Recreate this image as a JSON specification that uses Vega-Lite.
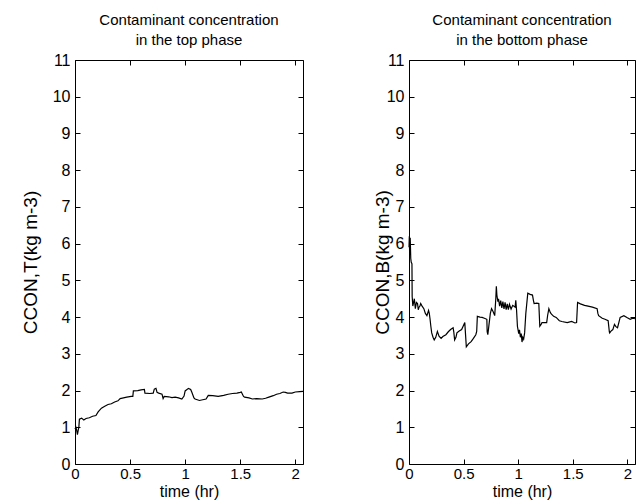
{
  "$schema": "https://vega.github.io/schema/vega-lite/v6.json",
  "background": "white",
  "padding": {"left": 20, "top": 12, "right": 4, "bottom": 0},
  "config": {
    "font": "Liberation Sans",
    "view": {"stroke": "black", "strokeWidth": 1},
    "axis": {
      "grid": false,
      "domain": false,
      "tickColor": "black",
      "tickSize": -5,
      "labelColor": "black",
      "labelFontSize": 16,
      "labelFlush": false,
      "labelOverlap": false,
      "titleFontWeight": "normal",
      "titleColor": "black"
    },
    "axisX": {"labelPadding": 7, "labelFontSize": 15, "titlePadding": 2, "titleFontSize": 16},
    "axisY": {"labelPadding": 10, "titleFontSize": 19},
    "title": {"fontSize": 15, "fontWeight": "normal", "color": "black", "lineHeight": 20, "offset": 4},
    "concat": {"spacing": 66}
  },
  "datasets": {
    "top": [
      {"t": 0.000, "c": 0.95}, {"t": 0.008, "c": 1.0}, {"t": 0.015, "c": 0.92}, {"t": 0.022, "c": 0.8},
      {"t": 0.028, "c": 0.9}, {"t": 0.035, "c": 1.0}, {"t": 0.04, "c": 1.22}, {"t": 0.06, "c": 1.25},
      {"t": 0.08, "c": 1.2}, {"t": 0.1, "c": 1.24}, {"t": 0.13, "c": 1.26}, {"t": 0.16, "c": 1.3},
      {"t": 0.19, "c": 1.32}, {"t": 0.21, "c": 1.42}, {"t": 0.24, "c": 1.52}, {"t": 0.27, "c": 1.57},
      {"t": 0.3, "c": 1.62}, {"t": 0.33, "c": 1.64}, {"t": 0.36, "c": 1.69}, {"t": 0.39, "c": 1.72},
      {"t": 0.41, "c": 1.78}, {"t": 0.44, "c": 1.8}, {"t": 0.47, "c": 1.82}, {"t": 0.51, "c": 1.84},
      {"t": 0.525, "c": 1.84}, {"t": 0.53, "c": 1.99}, {"t": 0.57, "c": 2.0}, {"t": 0.6, "c": 2.02},
      {"t": 0.63, "c": 2.03}, {"t": 0.635, "c": 1.93}, {"t": 0.68, "c": 1.92}, {"t": 0.71, "c": 1.93},
      {"t": 0.72, "c": 2.04}, {"t": 0.735, "c": 2.06}, {"t": 0.745, "c": 1.95}, {"t": 0.76, "c": 1.93},
      {"t": 0.79, "c": 1.9}, {"t": 0.8, "c": 1.78}, {"t": 0.81, "c": 1.84}, {"t": 0.85, "c": 1.83},
      {"t": 0.88, "c": 1.81}, {"t": 0.91, "c": 1.82}, {"t": 0.94, "c": 1.8}, {"t": 0.97, "c": 1.77},
      {"t": 0.99, "c": 1.85}, {"t": 1.0, "c": 1.99}, {"t": 1.03, "c": 2.06}, {"t": 1.05, "c": 2.03},
      {"t": 1.06, "c": 1.96}, {"t": 1.08, "c": 1.8}, {"t": 1.09, "c": 1.77}, {"t": 1.13, "c": 1.73},
      {"t": 1.16, "c": 1.75}, {"t": 1.19, "c": 1.77}, {"t": 1.21, "c": 1.87}, {"t": 1.25, "c": 1.86},
      {"t": 1.3, "c": 1.84}, {"t": 1.35, "c": 1.87}, {"t": 1.39, "c": 1.9}, {"t": 1.43, "c": 1.92},
      {"t": 1.47, "c": 1.93}, {"t": 1.5, "c": 1.95}, {"t": 1.51, "c": 1.96}, {"t": 1.53, "c": 1.84},
      {"t": 1.54, "c": 1.82}, {"t": 1.58, "c": 1.8}, {"t": 1.61, "c": 1.77}, {"t": 1.65, "c": 1.78},
      {"t": 1.7, "c": 1.77}, {"t": 1.73, "c": 1.79}, {"t": 1.76, "c": 1.82}, {"t": 1.8, "c": 1.86},
      {"t": 1.83, "c": 1.9}, {"t": 1.86, "c": 1.92}, {"t": 1.89, "c": 1.96}, {"t": 1.91, "c": 1.95},
      {"t": 1.93, "c": 1.93}, {"t": 1.97, "c": 1.93}, {"t": 2.0, "c": 1.96}, {"t": 2.04, "c": 1.97},
      {"t": 2.07, "c": 1.98}
    ],
    "bottom": [
      {"t": 0.000, "c": 5.9}, {"t": 0.003, "c": 6.2}, {"t": 0.006, "c": 5.7}, {"t": 0.011, "c": 6.16},
      {"t": 0.016, "c": 5.6}, {"t": 0.02, "c": 5.5}, {"t": 0.027, "c": 5.45}, {"t": 0.029, "c": 4.56},
      {"t": 0.035, "c": 4.3}, {"t": 0.049, "c": 4.5}, {"t": 0.058, "c": 4.23}, {"t": 0.068, "c": 4.4},
      {"t": 0.078, "c": 4.37}, {"t": 0.085, "c": 4.2}, {"t": 0.092, "c": 4.27}, {"t": 0.1, "c": 4.3},
      {"t": 0.107, "c": 4.37}, {"t": 0.12, "c": 4.3}, {"t": 0.136, "c": 4.23}, {"t": 0.15, "c": 4.1},
      {"t": 0.164, "c": 4.04}, {"t": 0.179, "c": 4.18}, {"t": 0.186, "c": 4.1}, {"t": 0.193, "c": 3.94},
      {"t": 0.2, "c": 3.75}, {"t": 0.208, "c": 3.57}, {"t": 0.22, "c": 3.45}, {"t": 0.231, "c": 3.38},
      {"t": 0.245, "c": 3.45}, {"t": 0.26, "c": 3.61}, {"t": 0.275, "c": 3.48}, {"t": 0.294, "c": 3.42},
      {"t": 0.31, "c": 3.47}, {"t": 0.338, "c": 3.52}, {"t": 0.36, "c": 3.6}, {"t": 0.381, "c": 3.66},
      {"t": 0.404, "c": 3.71}, {"t": 0.41, "c": 3.6}, {"t": 0.418, "c": 3.38}, {"t": 0.43, "c": 3.45},
      {"t": 0.439, "c": 3.57}, {"t": 0.46, "c": 3.62}, {"t": 0.482, "c": 3.66}, {"t": 0.5, "c": 3.78},
      {"t": 0.511, "c": 3.85}, {"t": 0.525, "c": 3.19}, {"t": 0.545, "c": 3.27}, {"t": 0.569, "c": 3.33},
      {"t": 0.59, "c": 3.42}, {"t": 0.612, "c": 3.52}, {"t": 0.62, "c": 3.61}, {"t": 0.626, "c": 4.02},
      {"t": 0.65, "c": 4.0}, {"t": 0.67, "c": 3.99}, {"t": 0.69, "c": 3.97}, {"t": 0.713, "c": 3.94},
      {"t": 0.716, "c": 3.6}, {"t": 0.722, "c": 3.52}, {"t": 0.733, "c": 3.8}, {"t": 0.745, "c": 4.1},
      {"t": 0.756, "c": 4.23}, {"t": 0.77, "c": 4.15}, {"t": 0.785, "c": 4.04}, {"t": 0.795, "c": 4.5},
      {"t": 0.8, "c": 4.84}, {"t": 0.805, "c": 4.6}, {"t": 0.814, "c": 4.42}, {"t": 0.82, "c": 4.5},
      {"t": 0.83, "c": 4.3}, {"t": 0.84, "c": 4.45}, {"t": 0.85, "c": 4.25}, {"t": 0.86, "c": 4.42},
      {"t": 0.87, "c": 4.22}, {"t": 0.88, "c": 4.4}, {"t": 0.89, "c": 4.2}, {"t": 0.9, "c": 4.36},
      {"t": 0.91, "c": 4.2}, {"t": 0.92, "c": 4.35}, {"t": 0.935, "c": 4.22}, {"t": 0.95, "c": 4.32},
      {"t": 0.972, "c": 4.27}, {"t": 0.978, "c": 4.46}, {"t": 0.985, "c": 4.2}, {"t": 0.993, "c": 3.75},
      {"t": 1.005, "c": 3.55}, {"t": 1.012, "c": 3.65}, {"t": 1.02, "c": 3.45}, {"t": 1.028, "c": 3.55},
      {"t": 1.035, "c": 3.32}, {"t": 1.042, "c": 3.45}, {"t": 1.05, "c": 3.4}, {"t": 1.059, "c": 3.57},
      {"t": 1.07, "c": 4.1}, {"t": 1.088, "c": 4.65}, {"t": 1.11, "c": 4.62}, {"t": 1.131, "c": 4.6},
      {"t": 1.14, "c": 4.45}, {"t": 1.146, "c": 4.37}, {"t": 1.17, "c": 4.38}, {"t": 1.189, "c": 4.37},
      {"t": 1.198, "c": 3.75}, {"t": 1.21, "c": 3.8}, {"t": 1.218, "c": 3.85}, {"t": 1.24, "c": 3.85},
      {"t": 1.261, "c": 3.85}, {"t": 1.27, "c": 4.05}, {"t": 1.281, "c": 4.23}, {"t": 1.295, "c": 4.12},
      {"t": 1.305, "c": 4.08}, {"t": 1.325, "c": 4.02}, {"t": 1.348, "c": 3.99}, {"t": 1.377, "c": 3.9},
      {"t": 1.4, "c": 3.88}, {"t": 1.449, "c": 3.85}, {"t": 1.49, "c": 3.88}, {"t": 1.52, "c": 3.84},
      {"t": 1.535, "c": 3.85}, {"t": 1.544, "c": 4.4}, {"t": 1.57, "c": 4.36}, {"t": 1.608, "c": 4.32},
      {"t": 1.64, "c": 4.3}, {"t": 1.68, "c": 4.27}, {"t": 1.723, "c": 4.23}, {"t": 1.73, "c": 4.1},
      {"t": 1.737, "c": 4.04}, {"t": 1.77, "c": 3.97}, {"t": 1.795, "c": 3.94}, {"t": 1.824, "c": 3.9},
      {"t": 1.835, "c": 3.6}, {"t": 1.838, "c": 3.57}, {"t": 1.85, "c": 3.62}, {"t": 1.867, "c": 3.66},
      {"t": 1.882, "c": 3.8}, {"t": 1.895, "c": 3.74}, {"t": 1.91, "c": 3.71}, {"t": 1.922, "c": 3.85},
      {"t": 1.934, "c": 3.99}, {"t": 1.968, "c": 4.04}, {"t": 2.0, "c": 3.98}, {"t": 2.026, "c": 3.94},
      {"t": 2.05, "c": 3.97}, {"t": 2.069, "c": 3.96}
    ]
  },
  "hconcat": [
    {
      "width": 228,
      "height": 404,
      "title": {"text": ["Contaminant concentration", "in the top phase"]},
      "data": {"name": "top"},
      "layer": [
        {
          "mark": {"type": "line", "color": "black", "strokeWidth": 1.2},
          "encoding": {
            "x": {"field": "t", "type": "quantitative", "scale": {"domain": [0, 2.07], "nice": false, "zero": false},
                  "axis": {"orient": "bottom", "values": [0, 0.5, 1, 1.5, 2], "format": "~g", "title": "time (hr)"}},
            "y": {"field": "c", "type": "quantitative", "scale": {"domain": [0, 11], "nice": false},
                  "axis": {"orient": "left", "values": [0, 1, 2, 3, 4, 5, 6, 7, 8, 9, 10, 11], "title": "CCON,T(kg m-3)", "titlePadding": 12}}
          }
        },
        {
          "mark": {"type": "line", "opacity": 0},
          "encoding": {
            "x": {"field": "t", "type": "quantitative", "axis": {"orient": "top", "values": [0, 0.5, 1, 1.5, 2], "labels": false, "title": null}},
            "y": {"field": "c", "type": "quantitative", "axis": {"orient": "right", "values": [0, 1, 2, 3, 4, 5, 6, 7, 8, 9, 10, 11], "labels": false, "title": null}}
          }
        }
      ],
      "resolve": {"axis": {"x": "independent", "y": "independent"}}
    },
    {
      "width": 226,
      "height": 404,
      "title": {"text": ["Contaminant concentration", "in the bottom phase"]},
      "data": {"name": "bottom"},
      "layer": [
        {
          "mark": {"type": "line", "color": "black", "strokeWidth": 1.2},
          "encoding": {
            "x": {"field": "t", "type": "quantitative", "scale": {"domain": [0, 2.07], "nice": false, "zero": false},
                  "axis": {"orient": "bottom", "values": [0, 0.5, 1, 1.5, 2], "format": "~g", "title": "time (hr)"}},
            "y": {"field": "c", "type": "quantitative", "scale": {"domain": [0, 11], "nice": false},
                  "axis": {"orient": "left", "values": [0, 1, 2, 3, 4, 5, 6, 7, 8, 9, 10, 11], "title": "CCON,B(kg m-3)", "titlePadding": -6}}
          }
        },
        {
          "mark": {"type": "line", "opacity": 0},
          "encoding": {
            "x": {"field": "t", "type": "quantitative", "axis": {"orient": "top", "values": [0, 0.5, 1, 1.5, 2], "labels": false, "title": null}},
            "y": {"field": "c", "type": "quantitative", "axis": {"orient": "right", "values": [0, 1, 2, 3, 4, 5, 6, 7, 8, 9, 10, 11], "labels": false, "title": null}}
          }
        }
      ],
      "resolve": {"axis": {"x": "independent", "y": "independent"}}
    }
  ]
}
